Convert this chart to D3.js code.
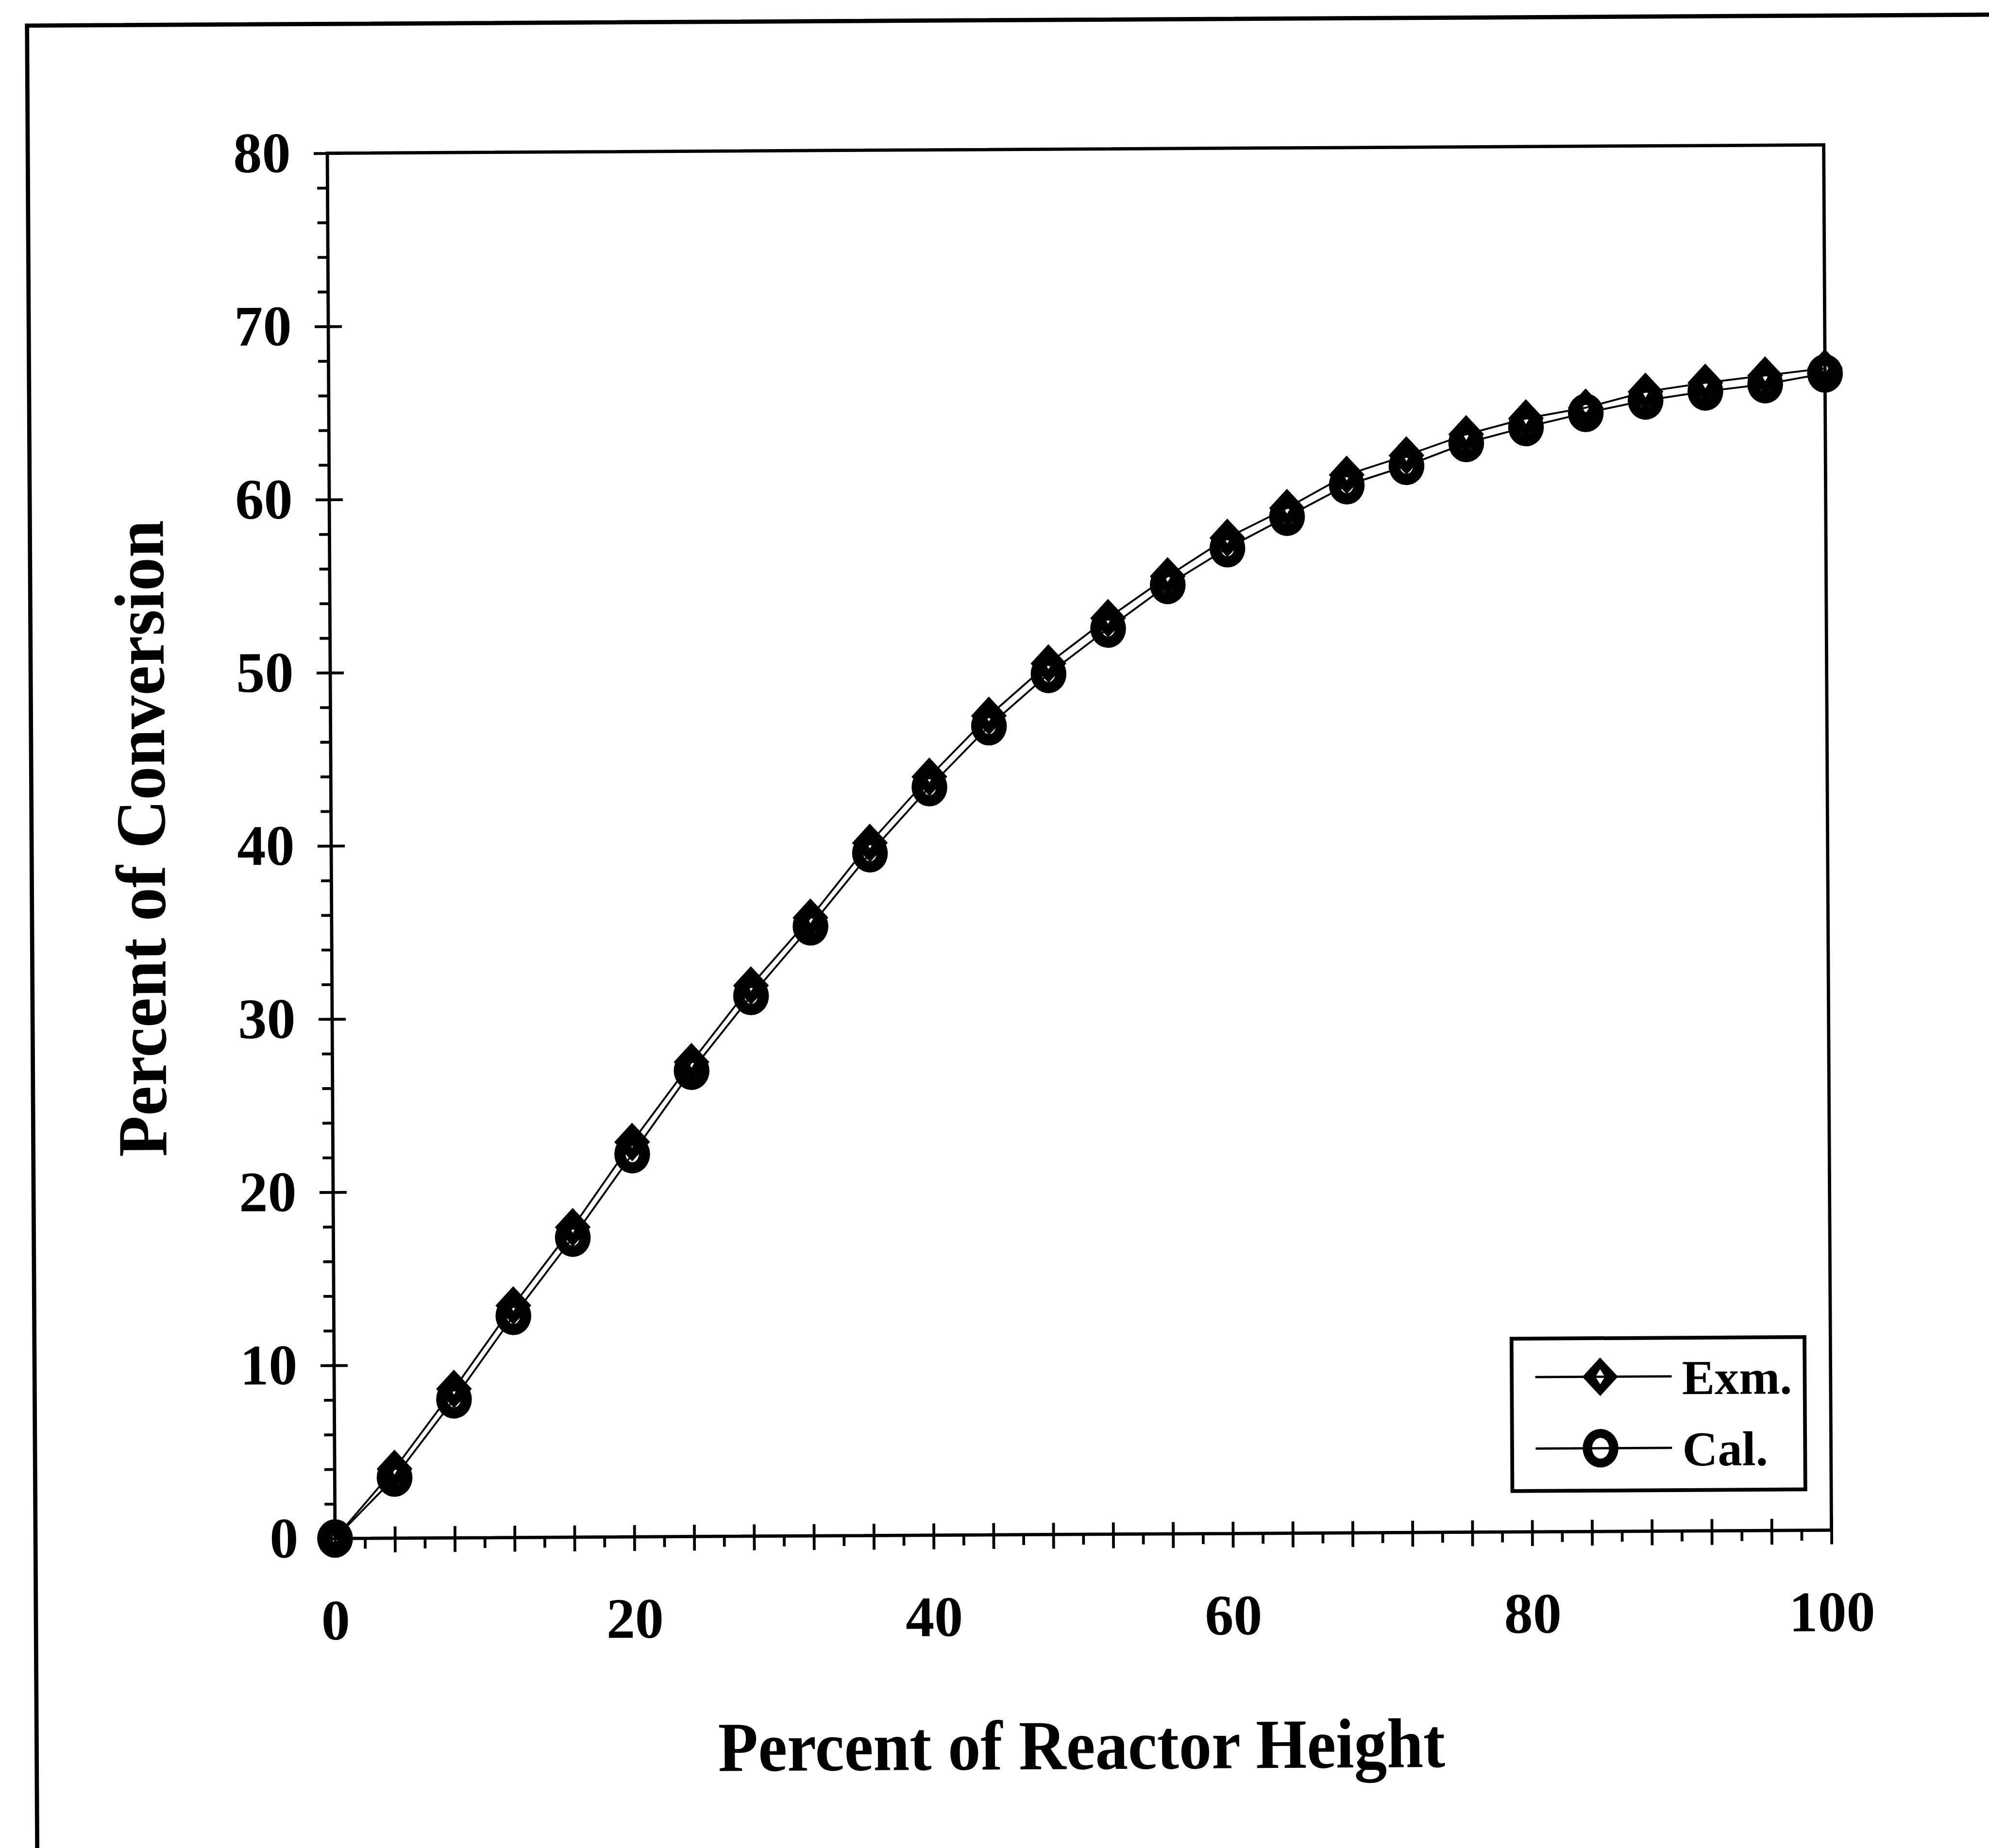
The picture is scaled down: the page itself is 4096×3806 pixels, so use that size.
<!DOCTYPE html>
<html>

<head>
	<meta charset="utf-8">
	<title>Percent of Conversion vs Reactor Height</title>
	<script src="https://d3js.org/d3.v7.min.js"></script>
	<style>
		body { margin: 0; background: #fff; }
		svg { display: block; }
	</style>
</head>

<body>
	<script>
		// Data
		const reactorHeight = [0, 4, 8, 12, 16, 20, 24, 28, 32, 36, 40, 44, 48, 52, 56, 60, 64, 68, 72, 76, 80, 84, 88, 92, 96, 100];
		const exmValues = [0, 4.0, 8.6, 13.4, 17.9, 22.8, 27.4, 31.8, 35.7, 40.0, 43.8, 47.3, 50.3, 52.9, 55.3, 57.5, 59.2, 61.1, 62.2, 63.4, 64.3, 64.9, 65.8, 66.3, 66.7, 67.1];
		const calValues = [0, 3.5, 8.0, 12.8, 17.3, 22.1, 26.9, 31.2, 35.2, 39.4, 43.2, 46.7, 49.7, 52.3, 54.8, 56.9, 58.7, 60.5, 61.6, 62.9, 63.8, 64.6, 65.3, 65.8, 66.2, 66.8];
		const xTickLabels = [0, 20, 40, 60, 80, 100];
		const yTickLabels = [0, 10, 20, 30, 40, 50, 60, 70, 80];
		const seriesNames = ['Exm.', 'Cal.'];

		// Chart is laid out in the reference's pixel space, then scaled down by the viewBox
		const W = 4229, H = 3930;
		const plot = { left: 704, right: 3886, top: 317, bottom: 3263 };
		const font = '"Liberation Serif", "Times New Roman", serif';

		const svg = d3.select('body')
			.append('svg')
			.attr('width', 4096)
			.attr('height', 3806)
			.attr('viewBox', `0 0 ${W} ${H}`);

		svg.append('rect')
			.attr('width', W)
			.attr('height', H)
			.attr('fill', '#fff');

		// the scan is slightly tilted
		const g = svg.append('g')
			.attr('transform', 'rotate(-0.32, 2295, 1790)');

		// outer frame (right and bottom sides run off the page)
		g.append('path')
			.attr('d', 'M67,4000V42H4400')
			.attr('fill', 'none')
			.attr('stroke', '#000')
			.attr('stroke-width', 9);

		const x = d3.scaleLinear().domain([0, 100]).range([plot.left, plot.right]);
		const y = d3.scaleLinear().domain([0, 80]).range([plot.bottom, plot.top]);

		const xMajor = d3.range(0, 101, 4);
		const xMinor = d3.range(2, 100, 4);
		const yMinor = d3.range(0, 81, 2).filter(v => v % 10 !== 0);

		function styleAxis(sel) {
			sel.select('.domain').remove();
			sel.selectAll('.tick line').attr('stroke', '#000').attr('stroke-width', 6);
			sel.selectAll('.tick text')
				.attr('fill', '#000')
				.style('font-family', font)
				.style('font-weight', 'bold')
				.style('font-size', '122px');
		}

		// x axis: crossing majors every 4, minors below only
		g.append('g')
			.attr('transform', `translate(0, ${plot.bottom})`)
			.call(d3.axisBottom(x).tickValues(xMajor).tickSize(30).tickPadding(98)
				.tickFormat(d => xTickLabels.includes(d) ? d : ''))
			.call(styleAxis);
		g.append('g')
			.attr('transform', `translate(0, ${plot.bottom})`)
			.call(d3.axisTop(x).tickValues(xMajor.slice(1)).tickSize(25).tickFormat(''))
			.call(styleAxis);
		g.append('g')
			.attr('transform', `translate(0, ${plot.bottom})`)
			.call(d3.axisBottom(x).tickValues(xMinor).tickSize(22).tickFormat(''))
			.call(styleAxis);

		// y axis: crossing majors every 10, minors every 2 on the left
		g.append('g')
			.attr('transform', `translate(${plot.left}, 0)`)
			.call(d3.axisLeft(y).tickValues(yTickLabels).tickSize(29).tickPadding(49))
			.call(styleAxis);
		g.append('g')
			.attr('transform', `translate(${plot.left}, 0)`)
			.call(d3.axisRight(y).tickValues(yTickLabels.slice(1)).tickSize(29).tickFormat(''))
			.call(styleAxis);
		g.append('g')
			.attr('transform', `translate(${plot.left}, 0)`)
			.call(d3.axisLeft(y).tickValues(yMinor).tickSize(22).tickFormat(''))
			.call(styleAxis);

		// plot box
		g.append('rect')
			.attr('x', plot.left)
			.attr('y', plot.top)
			.attr('width', plot.right - plot.left)
			.attr('height', plot.bottom - plot.top)
			.attr('fill', 'none')
			.attr('stroke', '#000')
			.attr('stroke-width', 7);

		// axis titles
		g.append('text')
			.attr('x', 2289)
			.attr('y', 3762)
			.attr('text-anchor', 'middle')
			.attr('textLength', 1546)
			.attr('lengthAdjust', 'spacingAndGlyphs')
			.style('font-family', font)
			.style('font-weight', 'bold')
			.style('font-size', '150px')
			.text('Percent of Reactor Height');

		g.append('text')
			.attr('transform', 'translate(350, 1772) rotate(-90)')
			.attr('text-anchor', 'middle')
			.attr('textLength', 1354)
			.attr('lengthAdjust', 'spacingAndGlyphs')
			.style('font-family', font)
			.style('font-weight', 'bold')
			.style('font-size', '150px')
			.text('Percent of Conversion');

		// markers: thick hollow outlines drawn as even-odd rings
		function diamond(cx, cy, hole) {
			const a = 38, b = 41, ia = hole ? 10 : 7, ib = hole ? 16 : 12;
			return `M${cx},${cy - b}L${cx + a},${cy}L${cx},${cy + b}L${cx - a},${cy}Z` +
				`M${cx},${cy - ib}L${cx + ia},${cy}L${cx},${cy + ib}L${cx - ia},${cy}Z`;
		}
		function ring(cx, cy, hole) {
			const rx = 38, ry = 41, irx = hole ? 18 : 14, iry = hole ? 22 : 17;
			const ell = (rX, rY) => `M${cx - rX},${cy}A${rX},${rY} 0 1,0 ${cx + rX},${cy}A${rX},${rY} 0 1,0 ${cx - rX},${cy}Z`;
			return ell(rx, ry) + ell(irx, iry);
		}

		const exmData = reactorHeight.map((h, i) => ({ h, v: exmValues[i] }));
		const calData = reactorHeight.map((h, i) => ({ h, v: calValues[i] }));

		const line = d3.line().x(d => x(d.h)).y(d => y(d.v));

		[calData, exmData].forEach(data => {
			g.append('path')
				.datum(data)
				.attr('d', line)
				.attr('fill', 'none')
				.attr('stroke', '#000')
				.attr('stroke-width', 4);
		});

		g.append('g').selectAll('path')
			.data(calData)
			.join('path')
			.attr('d', d => ring(x(d.h), y(d.v), false))
			.attr('fill', '#000')
			.attr('fill-rule', 'evenodd');

		g.append('g').selectAll('path')
			.data(exmData)
			.join('path')
			.attr('d', d => diamond(x(d.h), y(d.v), false))
			.attr('fill', '#000')
			.attr('fill-rule', 'evenodd');

		// legend
		const legend = g.append('g').attr('transform', 'translate(3208, 2852)');
		legend.append('rect')
			.attr('width', 623)
			.attr('height', 324)
			.attr('fill', '#fff')
			.attr('stroke', '#000')
			.attr('stroke-width', 8);

		const rows = legend.selectAll('g.row')
			.data(seriesNames)
			.join('g')
			.attr('class', 'row')
			.attr('transform', (d, i) => `translate(0, ${i === 0 ? 82 : 234})`);

		rows.append('line')
			.attr('x1', 50)
			.attr('x2', 340)
			.attr('stroke', '#000')
			.attr('stroke-width', 5);

		rows.append('path')
			.attr('d', (d, i) => i === 0 ? diamond(188, 0, true) : ring(188, 0, true))
			.attr('fill', '#000')
			.attr('fill-rule', 'evenodd');

		rows.append('text')
			.attr('x', 362)
			.attr('y', 38)
			.style('font-family', font)
			.style('font-weight', 'bold')
			.style('font-size', '104px')
			.text(d => d);
	</script>
</body>

</html>
